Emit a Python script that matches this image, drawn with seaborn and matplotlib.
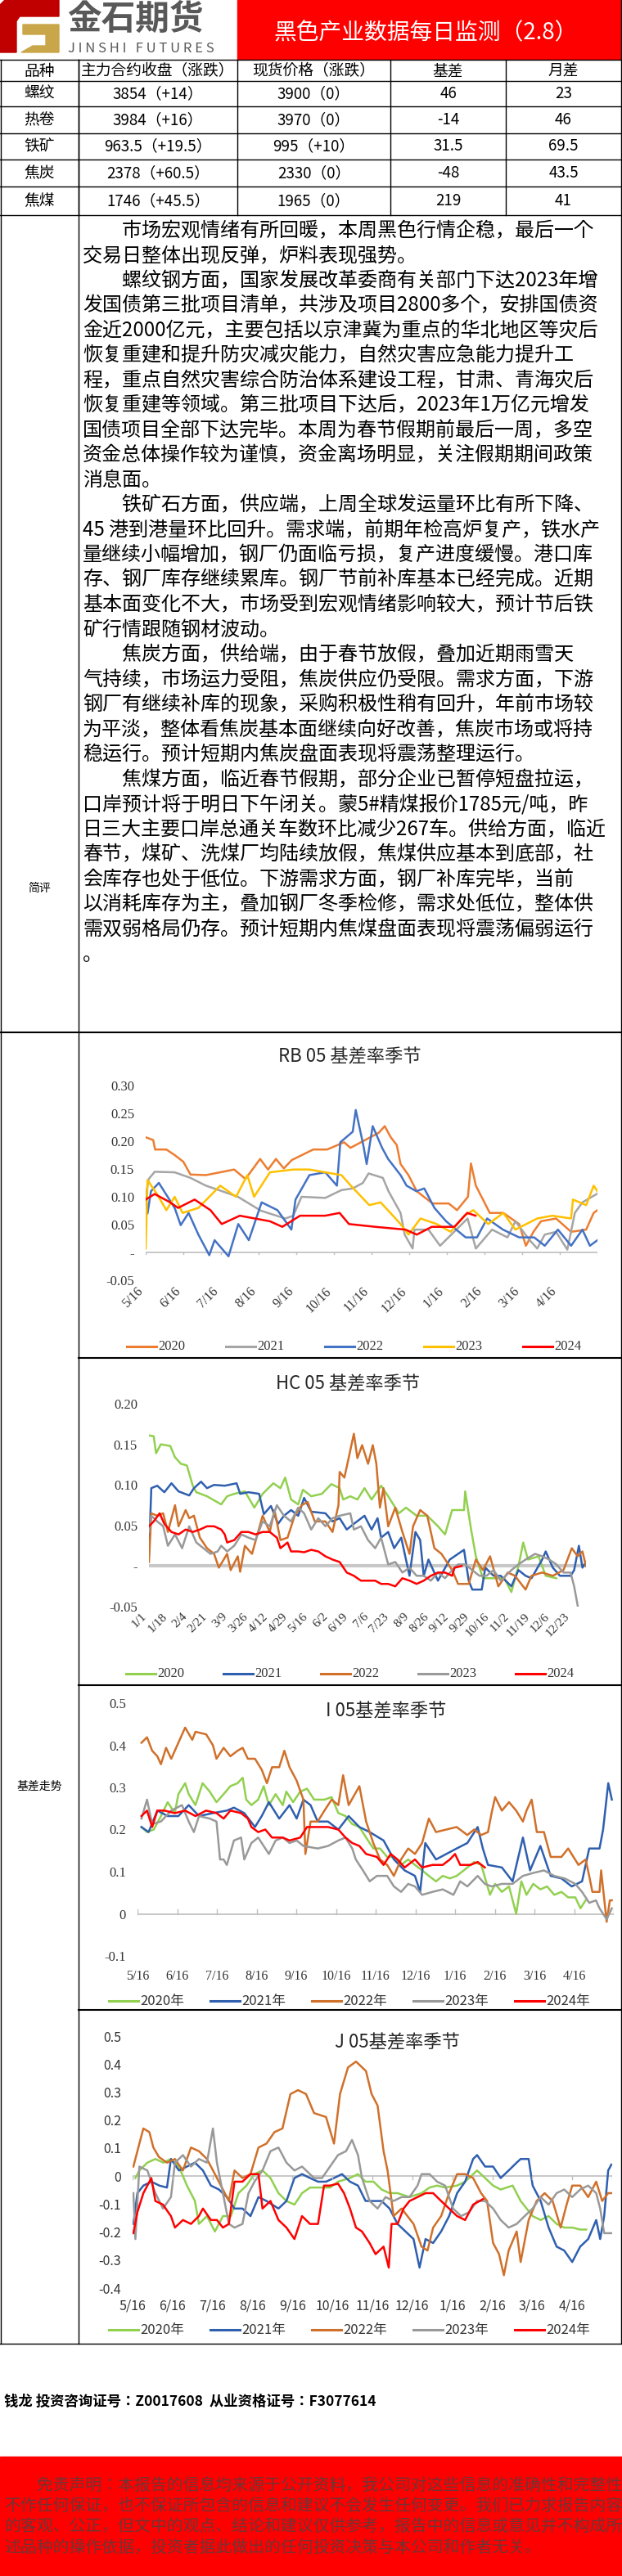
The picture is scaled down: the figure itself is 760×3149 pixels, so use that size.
import numpy as np
import pandas as pd
import matplotlib
matplotlib.use("Agg")
import matplotlib.pyplot as plt
from matplotlib.patches import Rectangle, Polygon
from matplotlib import font_manager
import seaborn as sns

cjk_names = {f.name for f in font_manager.fontManager.ttflist if "CJK" in f.name}
CJK = next((n for n in ["Noto Sans CJK SC", "Noto Sans CJK JP", "Noto Sans CJK TC", "Noto Sans CJK KR"] if n in cjk_names), "DejaVu Sans")
plt.rcParams["font.family"] = [CJK, "DejaVu Sans"]
W, H = 760, 3149

# ---------------- table ----------------
table_head = ["品种", "主力合约收盘（涨跌）", "现货价格（涨跌）", "基差", "月差"]
products = ["螺纹", "热卷", "铁矿", "焦炭", "焦煤"]
close_px = ["3854（+14）", "3984（+16）", "963.5（+19.5）", "2378（+60.5）", "1746（+45.5）"]
spot_px = ["3900（0）", "3970（0）", "995（+10）", "2330（0）", "1965（0）"]
basis = ["46", "-14", "31.5", "-48", "219"]
spread = ["23", "46", "69.5", "43.5", "41"]

comment_lines = [
    "　　市场宏观情绪有所回暖，本周黑色行情企稳，最后一个",
    "交易日整体出现反弹，炉料表现强势。",
    "　　螺纹钢方面，国家发展改革委商有关部门下达2023年增",
    "发国债第三批项目清单，共涉及项目2800多个，安排国债资",
    "金近2000亿元，主要包括以京津冀为重点的华北地区等灾后",
    "恢复重建和提升防灾减灾能力，自然灾害应急能力提升工",
    "程，重点自然灾害综合防治体系建设工程，甘肃、青海灾后",
    "恢复重建等领域。第三批项目下达后，2023年1万亿元增发",
    "国债项目全部下达完毕。本周为春节假期前最后一周，多空",
    "资金总体操作较为谨慎，资金离场明显，关注假期期间政策",
    "消息面。",
    "　　铁矿石方面，供应端，上周全球发运量环比有所下降、",
    "45 港到港量环比回升。需求端，前期年检高炉复产，铁水产",
    "量继续小幅增加，钢厂仍面临亏损，复产进度缓慢。港口库",
    "存、钢厂库存继续累库。钢厂节前补库基本已经完成。近期",
    "基本面变化不大，市场受到宏观情绪影响较大，预计节后铁",
    "矿行情跟随钢材波动。",
    "　　焦炭方面，供给端，由于春节放假，叠加近期雨雪天",
    "气持续，市场运力受阻，焦炭供应仍受限。需求方面，下游",
    "钢厂有继续补库的现象，采购积极性稍有回升，年前市场较",
    "为平淡，整体看焦炭基本面继续向好改善，焦炭市场或将持",
    "稳运行。预计短期内焦炭盘面表现将震荡整理运行。",
    "　　焦煤方面，临近春节假期，部分企业已暂停短盘拉运，",
    "口岸预计将于明日下午闭关。蒙5#精煤报价1785元/吨，昨",
    "日三大主要口岸总通关车数环比减少267车。供给方面，临近",
    "春节，煤矿、洗煤厂均陆续放假，焦煤供应基本到底部，社",
    "会库存也处于低位。下游需求方面，钢厂补库完毕，当前",
    "以消耗库存为主，叠加钢厂冬季检修，需求处低位，整体供",
    "需双弱格局仍存。预计短期内焦煤盘面表现将震荡偏弱运行",
    "。",
]

disclaimer_lines = [
    "　　免责声明：本报告的信息均来源于公开资料，我公司对这些信息的准确性和完整性",
    "不作任何保证，也不保证所包含的信息和建议不会发生任何变更。我们已力求报告内容",
    "的客观、公正，但文中的观点、结论和建议仅供参考，报告中的信息或意见并不构成所",
    "述品种的操作依据，投资者据此做出的任何投资决策与本公司和作者无关。",
]

# ---------------- RB 05 (x = months since 5/16) ----------------
rb_month_labels = ["5/16", "6/16", "7/16", "8/16", "9/16", "10/16", "11/16", "12/16", "1/16", "2/16", "3/16", "4/16"]
rb_x_2020 = [0, 0.2, 0.25, 0.55, 0.77, 1.0, 1.19, 1.6, 2.35, 2.65, 3.04, 3.25, 3.46, 3.67, 3.88, 4.45, 4.82, 5.27, 5.44, 6.19, 6.35, 6.51, 6.67, 6.77, 6.98, 7.2, 7.62, 8.05, 8.27, 8.56, 8.64, 8.77, 9.14, 9.5, 9.92, 10.1, 10.3, 10.5, 10.9, 11.3, 11.7, 11.9, 12.0]
rb_y_2020 = [0.207, 0.202, 0.185, 0.185, 0.175, 0.163, 0.14, 0.139, 0.149, 0.132, 0.168, 0.149, 0.168, 0.151, 0.166, 0.185, 0.185, 0.198, 0.188, 0.215, 0.227, 0.207, 0.193, 0.159, 0.139, 0.110, 0.088, 0.088, 0.076, 0.10, 0.16, 0.12, 0.071, 0.071, 0.051, 0.012, 0.037, 0.056, 0.061, 0.037, 0.041, 0.071, 0.076]
rb_x_2021 = [0, 0.08, 0.24, 0.77, 1.19, 1.6, 2.03, 2.45, 3.06, 3.71, 3.92, 4.14, 4.77, 5.2, 5.5, 5.77, 5.92, 6.3, 6.45, 6.77, 6.88, 7.09, 7.14, 7.51, 7.82, 8.55, 8.77, 9.2, 9.61, 9.82, 10.2, 10.4, 10.6, 10.9, 11.2, 11.4, 11.6, 11.98]
rb_y_2021 = [0.10, 0.132, 0.145, 0.144, 0.134, 0.12, 0.11, 0.10, 0.075, 0.061, 0.066, 0.10, 0.098, 0.112, 0.115, 0.125, 0.142, 0.134, 0.110, 0.071, 0.032, 0.007, 0.041, 0.041, 0.012, 0.061, 0.007, 0.041, 0.027, 0.056, 0.022, 0.007, 0.032, 0.037, 0.005, 0.071, 0.090, 0.105]
rb_x_2022 = [0, 0.05, 0.14, 0.35, 0.77, 0.93, 1.14, 1.40, 1.69, 1.83, 2.2, 2.46, 2.74, 3.08, 3.5, 3.87, 3.98, 4.35, 4.77, 5.08, 5.17, 5.5, 5.58, 5.78, 5.87, 6.03, 6.28, 6.44, 6.77, 6.93, 7.19, 7.4, 7.67, 7.98, 8.5, 8.8, 9.07, 9.49, 9.92, 10.32, 10.6, 10.95, 11.3, 11.6, 11.8, 12.0]
rb_y_2022 = [0.10, 0.07, 0.11, 0.125, 0.080, 0.049, 0.071, 0.032, -0.005, 0.022, -0.007, 0.051, 0.022, 0.090, 0.076, 0.041, 0.095, 0.139, 0.144, 0.12, 0.198, 0.217, 0.256, 0.193, 0.159, 0.227, 0.188, 0.168, 0.139, 0.120, 0.110, 0.115, 0.080, 0.056, 0.027, 0.027, 0.061, 0.041, 0.027, 0.027, 0.012, 0.041, 0.012, 0.041, 0.012, 0.022]
rb_x_2023 = [0, 0.05, 0.3, 0.55, 0.77, 0.98, 1.4, 1.98, 2.4, 2.7, 2.88, 3.3, 3.92, 4.35, 4.77, 5.2, 5.45, 5.94, 6.24, 6.5, 6.77, 6.98, 7.3, 7.73, 8.1, 8.47, 8.7, 9.1, 9.5, 9.82, 10.4, 10.8, 11.3, 11.35, 11.7, 11.9, 12.0]
rb_y_2023 = [0.007, 0.13, 0.105, 0.076, 0.10, 0.071, 0.080, 0.12, 0.10, 0.139, 0.10, 0.144, 0.149, 0.149, 0.144, 0.139, 0.120, 0.085, 0.090, 0.071, 0.051, 0.032, 0.061, 0.051, 0.037, 0.066, 0.076, 0.051, 0.071, 0.041, 0.061, 0.066, 0.061, 0.095, 0.085, 0.12, 0.110]
rb_x_2024 = [0, 0.24, 0.65, 0.86, 1.3, 1.72, 2.02, 2.5, 3.3, 3.63, 4.1, 4.77, 5.15, 5.4, 6.1, 6.9, 7.2, 7.6, 8.2, 8.54, 8.76]
rb_y_2024 = [0.095, 0.105, 0.090, 0.080, 0.095, 0.076, 0.051, 0.066, 0.056, 0.046, 0.066, 0.066, 0.071, 0.051, 0.046, 0.041, 0.032, 0.046, 0.046, 0.071, 0.066]

# ---------------- HC 05 (x = day of year) ----------------
hc_day_labels = ["1/1", "1/18", "2/4", "2/21", "3/9", "3/26", "4/12", "4/29", "5/16", "6/2", "6/19", "7/6", "7/23", "8/9", "8/26", "9/12", "9/29", "10/16", "11/2", "11/19", "12/6", "12/23"]
hc_x_2020 = [0, 4, 6, 10, 18, 22, 27, 32, 37, 40, 49, 61, 66, 72, 81, 89, 96, 105, 111, 115, 120, 126, 130, 137, 146, 154, 161, 164, 170, 176, 182, 188, 196, 202, 211, 217, 226, 235, 244, 250, 256, 266, 267, 272, 276, 282, 291, 300, 306, 312, 316, 320, 329, 335, 344]
hc_y_2020 = [0.161, 0.160, 0.139, 0.150, 0.148, 0.134, 0.126, 0.124, 0.099, 0.091, 0.086, 0.076, 0.086, 0.089, 0.092, 0.072, 0.089, 0.102, 0.096, 0.109, 0.082, 0.076, 0.094, 0.086, 0.089, 0.101, 0.096, 0.082, 0.086, 0.082, 0.096, 0.082, 0.099, 0.086, 0.065, 0.072, 0.062, 0.062, 0.049, 0.039, 0.069, 0.069, 0.092, 0.045, 0.012, -0.015, -0.015, -0.015, -0.032, 0.0, 0.029, 0.008, 0.012, -0.012, -0.015]
hc_x_2021 = [0, 2, 7, 13, 19, 25, 34, 38, 44, 49, 55, 64, 74, 77, 84, 93, 97, 103, 109, 114, 120, 126, 131, 137, 149, 155, 161, 167, 173, 182, 188, 193, 196, 202, 207, 213, 217, 220, 225, 229, 232, 236, 244, 254, 261, 266, 270, 273, 281, 284, 291, 297, 306, 312, 318, 323, 332, 335, 341, 347, 356, 359, 363, 366, 369]
hc_y_2021 = [0.015, 0.096, 0.099, 0.091, 0.102, 0.092, 0.087, 0.096, 0.104, 0.096, 0.10, 0.099, 0.102, 0.089, 0.091, 0.089, 0.064, 0.074, 0.052, 0.062, 0.069, 0.062, 0.084, 0.067, 0.065, 0.055, 0.059, 0.045, 0.052, 0.062, 0.045, 0.059, 0.035, 0.042, 0.022, 0.035, 0.008, -0.012, 0.042, 0.032, -0.012, 0.008, -0.018, 0.008, 0.015, 0.020, -0.018, -0.029, -0.029, -0.002, -0.012, -0.012, -0.025, -0.005, -0.012, -0.015, 0.008, 0.018, -0.002, -0.012, -0.012, -0.005, 0.025, -0.002, 0.005]
hc_x_2022 = [0, 2, 7, 12, 16, 22, 25, 31, 34, 38, 43, 49, 55, 59, 66, 69, 75, 77, 81, 87, 96, 102, 106, 111, 117, 123, 129, 134, 140, 149, 155, 160, 161, 165, 168, 173, 176, 180, 185, 189, 192, 195, 198, 202, 208, 214, 220, 223, 229, 235, 241, 247, 256, 261, 270, 276, 282, 288, 295, 303, 309, 318, 323, 332, 341, 350, 357, 362, 366, 369]
hc_y_2022 = [0.005, 0.065, 0.062, 0.065, 0.042, 0.075, 0.049, 0.069, 0.059, 0.062, 0.035, 0.022, 0.015, -0.002, 0.015, -0.005, 0.012, -0.007, 0.025, 0.015, 0.062, 0.042, 0.069, 0.032, 0.035, 0.062, 0.075, 0.079, 0.055, 0.055, 0.042, 0.075, 0.116, 0.109, 0.129, 0.163, 0.133, 0.149, 0.126, 0.149, 0.126, 0.072, 0.096, 0.049, 0.072, 0.042, 0.015, 0.049, 0.069, 0.062, 0.022, 0.015, -0.005, -0.022, -0.022, 0.008, -0.005, 0.012, -0.025, -0.008, -0.012, -0.029, -0.012, -0.008, -0.012, -0.005, 0.022, 0.012, 0.018, 0.0]
hc_x_2023 = [0, 2, 7, 12, 16, 22, 28, 34, 40, 46, 52, 58, 61, 66, 72, 78, 84, 90, 96, 102, 108, 114, 120, 126, 131, 137, 143, 149, 155, 161, 170, 173, 179, 185, 191, 196, 202, 208, 214, 220, 226, 232, 238, 244, 250, 256, 261, 267, 273, 279, 285, 291, 297, 306, 312, 318, 326, 332, 338, 344, 350, 356, 359, 362]
hc_y_2023 = [0.042, 0.062, 0.055, 0.049, 0.025, 0.039, 0.022, 0.049, 0.029, 0.022, 0.015, 0.018, 0.025, 0.018, 0.025, 0.039, 0.035, 0.032, 0.055, 0.049, 0.075, 0.062, 0.055, 0.072, 0.065, 0.045, 0.059, 0.049, 0.059, 0.062, 0.065, 0.045, 0.049, 0.032, 0.022, 0.035, 0.002, 0.005, -0.008, -0.002, -0.012, -0.012, -0.018, -0.008, -0.015, -0.005, 0.002, 0.002, -0.005, -0.012, -0.012, -0.005, -0.018, -0.005, 0.002, 0.008, 0.015, 0.012, 0.008, 0.002, -0.008, -0.008, -0.025, -0.049]
hc_x_2024 = [0, 4, 9, 13, 19, 25, 31, 37, 43, 49, 55, 61, 64, 66, 72, 78, 84, 90, 96, 102, 108, 111, 117, 120, 126, 131, 137, 143, 149, 155, 161, 167, 173, 179, 185, 191, 196, 202, 208, 214, 220, 226, 232, 238, 244, 250, 256, 258, 264]
hc_y_2024 = [0.049, 0.055, 0.065, 0.052, 0.042, 0.039, 0.045, 0.042, 0.045, 0.049, 0.049, 0.045, 0.039, 0.029, 0.032, 0.042, 0.042, 0.039, 0.042, 0.042, 0.035, 0.022, 0.029, 0.018, 0.018, 0.017, 0.020, 0.018, 0.012, 0.008, 0.005, -0.008, -0.012, -0.018, -0.018, -0.018, -0.022, -0.022, -0.025, -0.015, -0.018, -0.022, -0.018, -0.012, -0.008, -0.008, -0.012, -0.002, 0.0]

# ---------------- I 05 (x = months since 5/16) ----------------
i_x_2020 = [0.1, 0.24, 0.41, 0.59, 0.76, 0.94, 1.03, 1.2, 1.29, 1.46, 1.64, 1.82, 1.99, 2.17, 2.34, 2.52, 2.65, 2.74, 2.87, 3.04, 3.18, 3.31, 3.48, 3.66, 3.75, 3.92, 4.1, 4.27, 4.45, 4.71, 4.89, 5.06, 5.24, 5.41, 5.59, 5.76, 5.94, 6.11, 6.29, 6.46, 6.64, 6.82, 6.99, 7.17, 7.34, 7.52, 7.69, 7.87, 8.04, 8.22, 8.48, 8.66, 8.88, 9.01, 9.18, 9.36, 9.54, 9.67, 9.8, 9.97, 10.15, 10.32, 10.5, 10.68, 10.85, 11.03, 11.16, 11.29]
i_y_2020 = [0.206, 0.194, 0.2, 0.232, 0.265, 0.239, 0.284, 0.31, 0.284, 0.258, 0.31, 0.29, 0.265, 0.284, 0.303, 0.31, 0.323, 0.271, 0.258, 0.271, 0.303, 0.258, 0.284, 0.258, 0.29, 0.265, 0.29, 0.297, 0.271, 0.271, 0.277, 0.239, 0.232, 0.213, 0.206, 0.181, 0.155, 0.155, 0.135, 0.135, 0.116, 0.129, 0.116, 0.103, 0.09, 0.077, 0.09, 0.084, 0.09, 0.103, 0.123, 0.116, 0.045, 0.071, 0.052, 0.065, 0.0, 0.077, 0.045, 0.071, 0.058, 0.065, 0.045, 0.052, 0.039, 0.039, 0.013, 0.032]
i_x_2021 = [0.1, 0.28, 0.5, 0.76, 1.03, 1.29, 1.55, 1.9, 2.25, 2.43, 2.69, 2.96, 3.13, 3.31, 3.57, 3.83, 4.01, 4.18, 4.36, 4.54, 4.8, 5.06, 5.32, 5.59, 5.85, 6.2, 6.46, 6.73, 6.99, 7.12, 7.25, 7.52, 7.78, 8.04, 8.31, 8.57, 8.7, 8.83, 9.18, 9.45, 9.71, 9.89, 10.15, 10.41, 10.68, 10.94, 11.2, 11.38, 11.64, 11.73, 11.86, 11.95]
i_y_2021 = [0.206, 0.194, 0.245, 0.232, 0.232, 0.258, 0.232, 0.239, 0.245, 0.252, 0.239, 0.206, 0.232, 0.265, 0.226, 0.258, 0.226, 0.271, 0.258, 0.219, 0.219, 0.2, 0.232, 0.206, 0.194, 0.174, 0.129, 0.103, 0.09, 0.052, 0.168, 0.129, 0.142, 0.155, 0.168, 0.206, 0.155, 0.116, 0.11, 0.077, 0.181, 0.103, 0.161, 0.090, 0.084, 0.065, 0.077, 0.155, 0.155, 0.2, 0.31, 0.271]
i_x_2022 = [0.1, 0.24, 0.37, 0.5, 0.59, 0.72, 0.85, 1.03, 1.2, 1.38, 1.46, 1.73, 1.9, 1.99, 2.17, 2.34, 2.52, 2.65, 2.78, 2.96, 3.13, 3.26, 3.39, 3.57, 3.7, 3.83, 4.01, 4.18, 4.23, 4.36, 4.54, 4.71, 4.89, 5.06, 5.18, 5.32, 5.59, 5.76, 5.94, 6.11, 6.29, 6.46, 6.64, 6.82, 6.99, 7.17, 7.34, 7.52, 7.78, 8.04, 8.31, 8.48, 8.66, 8.83, 8.92, 9.01, 9.18, 9.36, 9.54, 9.71, 9.8, 9.93, 10.06, 10.24, 10.41, 10.68, 10.85, 11.11, 11.29, 11.38, 11.46, 11.64, 11.68, 11.82, 11.9, 11.95]
i_y_2022 = [0.406, 0.419, 0.387, 0.374, 0.355, 0.394, 0.368, 0.406, 0.442, 0.413, 0.432, 0.426, 0.4, 0.368, 0.394, 0.374, 0.387, 0.394, 0.368, 0.368, 0.342, 0.31, 0.348, 0.348, 0.387, 0.348, 0.316, 0.271, 0.142, 0.219, 0.219, 0.245, 0.271, 0.258, 0.329, 0.258, 0.303, 0.219, 0.168, 0.129, 0.116, 0.090, 0.129, 0.155, 0.142, 0.168, 0.226, 0.194, 0.2, 0.206, 0.187, 0.2, 0.187, 0.194, 0.239, 0.277, 0.245, 0.265, 0.245, 0.219, 0.245, 0.271, 0.194, 0.194, 0.135, 0.135, 0.155, 0.116, 0.129, 0.090, 0.052, 0.052, 0.103, -0.019, 0.032, 0.032]
i_x_2023 = [0.1, 0.24, 0.37, 0.59, 0.85, 1.12, 1.29, 1.42, 1.55, 1.82, 1.99, 2.08, 2.17, 2.25, 2.43, 2.61, 2.69, 2.87, 3.04, 3.31, 3.48, 3.66, 3.83, 4.01, 4.18, 4.54, 4.8, 5.06, 5.24, 5.41, 5.5, 5.68, 5.85, 6.03, 6.29, 6.46, 6.64, 6.82, 6.99, 7.17, 7.43, 7.69, 7.96, 8.13, 8.31, 8.57, 8.75, 8.92, 9.18, 9.45, 9.71, 9.97, 10.24, 10.5, 10.76, 11.03, 11.2, 11.38, 11.55, 11.64, 11.73, 11.82, 11.95]
i_y_2023 = [0.226, 0.271, 0.213, 0.219, 0.245, 0.258, 0.219, 0.194, 0.232, 0.226, 0.219, 0.129, 0.129, 0.116, 0.174, 0.181, 0.129, 0.168, 0.181, 0.142, 0.174, 0.181, 0.168, 0.174, 0.161, 0.155, 0.161, 0.174, 0.181, 0.155, 0.129, 0.103, 0.077, 0.090, 0.090, 0.065, 0.052, 0.071, 0.065, 0.045, 0.052, 0.058, 0.045, 0.077, 0.065, 0.090, 0.071, 0.065, 0.071, 0.071, 0.090, 0.097, 0.103, 0.090, 0.084, 0.071, 0.052, 0.026, 0.032, 0.013, 0.0, -0.013, 0.013]
i_x_2024 = [0.1, 0.24, 0.37, 0.5, 0.68, 0.94, 1.2, 1.46, 1.73, 1.99, 2.17, 2.34, 2.61, 2.78, 2.87, 3.04, 3.22, 3.39, 3.66, 3.83, 4.1, 4.27, 4.54, 4.8, 5.06, 5.24, 5.41, 5.59, 5.76, 6.03, 6.2, 6.38, 6.55, 6.73, 6.99, 7.17, 7.43, 7.69, 7.87, 8.0, 8.13, 8.39, 8.57, 8.75]
i_y_2024 = [0.232, 0.245, 0.206, 0.245, 0.245, 0.239, 0.245, 0.232, 0.245, 0.239, 0.226, 0.245, 0.239, 0.226, 0.206, 0.194, 0.2, 0.181, 0.181, 0.174, 0.181, 0.206, 0.206, 0.206, 0.2, 0.181, 0.168, 0.161, 0.142, 0.135, 0.116, 0.142, 0.129, 0.110, 0.129, 0.110, 0.116, 0.116, 0.129, 0.142, 0.116, 0.116, 0.123, 0.110]

# ---------------- J 05 (x = months since 5/16) ----------------
j_x_2020 = [0.07, 0.17, 0.37, 0.57, 0.77, 0.96, 1.16, 1.36, 1.56, 1.66, 1.86, 2.06, 2.26, 2.46, 2.65, 2.85, 3.05, 3.25, 3.45, 3.65, 3.85, 4.05, 4.24, 4.44, 4.64, 4.94, 5.14, 5.44, 5.64, 5.83, 6.03, 6.23, 6.43, 6.63, 6.93, 7.23, 7.43, 7.62, 7.82, 8.12, 8.32, 8.62, 8.82, 9.02, 9.21, 9.51, 9.71, 10.01, 10.21, 10.41, 10.61, 10.8, 11.0, 11.2, 11.35]
j_y_2020 = [-0.007, 0.02, 0.048, 0.061, 0.048, 0.061, 0.034, -0.034, -0.089, -0.171, -0.143, -0.198, -0.143, -0.143, -0.061, -0.034, 0.007, 0.02, -0.007, -0.061, -0.089, -0.102, -0.061, -0.041, -0.041, -0.041, -0.02, -0.007, 0.007, -0.02, -0.02, -0.048, -0.061, -0.061, -0.075, -0.061, -0.041, -0.034, -0.041, -0.034, -0.02, 0.02, -0.007, -0.034, -0.048, -0.034, -0.089, -0.143, -0.157, -0.143, -0.171, -0.184, -0.184, -0.191, -0.191]
j_x_2021 = [0.02, 0.12, 0.27, 0.47, 0.67, 0.86, 0.96, 1.16, 1.36, 1.56, 1.76, 1.96, 2.16, 2.36, 2.55, 2.75, 2.95, 3.15, 3.35, 3.65, 3.85, 4.05, 4.24, 4.44, 4.64, 4.84, 5.04, 5.24, 5.44, 5.64, 5.83, 6.03, 6.23, 6.43, 6.63, 6.83, 7.03, 7.18, 7.33, 7.52, 7.72, 7.92, 8.12, 8.32, 8.52, 8.62, 8.82, 9.02, 9.21, 9.41, 9.61, 9.71, 9.91, 10.01, 10.21, 10.41, 10.61, 10.8, 11.0, 11.2, 11.4, 11.6, 11.7, 11.8, 11.9, 11.98]
j_y_2021 = [-0.171, -0.061, -0.034, -0.02, -0.034, -0.041, 0.061, 0.02, 0.034, 0.048, 0.02, -0.034, -0.048, -0.075, -0.116, -0.116, -0.143, -0.075, -0.089, -0.116, -0.089, -0.007, 0.007, -0.007, -0.02, -0.02, -0.007, 0.007, -0.02, -0.034, -0.089, -0.089, -0.089, -0.116, -0.171, -0.198, -0.225, -0.327, -0.225, -0.239, -0.198, -0.143, -0.061, -0.02, 0.061, 0.075, 0.034, 0.034, -0.007, 0.02, 0.048, 0.061, 0.061, -0.034, -0.089, -0.184, -0.252, -0.266, -0.307, -0.252, -0.225, -0.157, -0.225, -0.143, 0.02, 0.041]
j_x_2022 = [0.02, 0.17, 0.27, 0.42, 0.52, 0.66, 0.86, 1.06, 1.26, 1.46, 1.66, 1.86, 2.06, 2.26, 2.41, 2.55, 2.75, 2.95, 3.15, 3.35, 3.55, 3.75, 3.95, 4.14, 4.34, 4.54, 4.84, 5.04, 5.19, 5.39, 5.59, 5.84, 5.98, 6.13, 6.28, 6.38, 6.53, 6.73, 7.03, 7.23, 7.38, 7.52, 7.72, 7.92, 8.12, 8.32, 8.52, 8.72, 8.87, 9.02, 9.17, 9.29, 9.41, 9.61, 9.71, 9.91, 10.11, 10.31, 10.51, 10.71, 10.86, 11.0, 11.2, 11.4, 11.6, 11.75, 11.9, 12.0]
j_y_2022 = [0.034, 0.116, 0.17, 0.157, 0.102, 0.068, 0.048, 0.061, 0.02, 0.102, 0.089, 0.061, 0.007, -0.048, -0.089, 0.02, -0.007, 0.007, 0.102, 0.116, 0.157, 0.17, 0.293, 0.307, 0.293, 0.225, 0.211, 0.116, 0.293, 0.388, 0.409, 0.375, 0.293, 0.252, 0.089, 0.02, -0.143, -0.116, -0.171, -0.252, -0.266, -0.184, -0.143, -0.061, 0.007, 0.007, -0.007, -0.061, -0.089, -0.239, -0.279, -0.354, -0.266, -0.198, -0.307, -0.157, -0.089, -0.061, -0.089, -0.184, -0.102, -0.034, -0.034, -0.075, -0.02, -0.089, -0.061, -0.061]
j_x_2023 = [0.02, 0.07, 0.17, 0.37, 0.57, 0.76, 0.96, 1.06, 1.26, 1.46, 1.66, 1.86, 2.01, 2.11, 2.26, 2.41, 2.55, 2.75, 2.9, 3.05, 3.25, 3.45, 3.65, 3.85, 4.05, 4.24, 4.54, 4.74, 4.94, 5.14, 5.34, 5.49, 5.64, 5.74, 5.93, 6.13, 6.33, 6.53, 6.73, 6.93, 7.13, 7.23, 7.43, 7.62, 7.82, 8.02, 8.22, 8.42, 8.62, 8.82, 9.02, 9.21, 9.41, 9.61, 9.81, 10.01, 10.21, 10.41, 10.61, 10.8, 11.0, 11.2, 11.4, 11.6, 11.7, 11.8, 12.0]
j_y_2023 = [-0.061, -0.225, 0.034, 0.02, -0.061, -0.116, -0.075, 0.048, 0.075, 0.034, 0.061, 0.048, 0.17, 0.048, -0.061, -0.171, -0.184, -0.171, -0.061, -0.02, 0.02, 0.089, 0.102, 0.048, 0.02, 0.034, -0.007, -0.007, 0.034, 0.075, 0.089, 0.129, 0.075, -0.007, -0.089, -0.116, -0.075, -0.089, -0.075, -0.075, -0.034, 0.007, 0.007, -0.02, -0.034, -0.116, -0.143, -0.129, -0.089, -0.089, -0.116, -0.157, -0.184, -0.171, -0.143, -0.116, -0.075, -0.102, -0.061, -0.048, -0.075, -0.048, -0.034, -0.061, -0.116, -0.204, -0.204]
j_x_2024 = [0.02, 0.12, 0.27, 0.47, 0.57, 0.76, 0.96, 1.06, 1.26, 1.46, 1.66, 1.76, 1.96, 2.11, 2.26, 2.41, 2.55, 2.75, 2.95, 3.15, 3.25, 3.45, 3.65, 3.85, 4.05, 4.24, 4.44, 4.64, 4.79, 4.94, 5.14, 5.29, 5.44, 5.59, 5.74, 5.93, 6.08, 6.28, 6.41, 6.48, 6.63, 6.78, 6.93, 7.13, 7.33, 7.52, 7.72, 7.92, 8.12, 8.32, 8.52, 8.77]
j_y_2024 = [-0.204, -0.129, -0.061, -0.007, -0.089, -0.102, -0.143, -0.184, -0.157, -0.171, -0.143, -0.116, -0.157, -0.157, -0.184, -0.171, -0.02, -0.02, 0.007, 0.007, -0.116, -0.089, -0.157, -0.184, -0.225, -0.143, -0.171, -0.171, -0.034, -0.034, -0.027, -0.061, -0.116, -0.184, -0.198, -0.239, -0.279, -0.252, -0.327, -0.171, -0.171, -0.116, -0.089, -0.075, -0.061, -0.061, -0.089, -0.116, -0.143, -0.157, -0.102, -0.082]

years = ["2020", "2021", "2022", "2023", "2024"]
rb_colors = ["#ED7D31", "#A5A5A5", "#4472C4", "#FFC000", "#FF0000"]
other_colors = ["#92D050", "#2F5FAF", "#D0702A", "#999999", "#FF0000"]


def long_frame(xs, ys):
    parts = [pd.DataFrame({"x": x, "y": y, "year": yr}) for x, y, yr in zip(xs, ys, years)]
    return pd.concat(parts, ignore_index=True)


fig = plt.figure(figsize=(W / 100, H / 100), dpi=100)
bg = fig.add_axes([0, 0, 1, 1])
bg.set_xlim(0, W)
bg.set_ylim(H, 0)
bg.axis("off")


def hline(y, x0=0, x1=W, lw=1.0, c="black"):
    bg.plot([x0, x1], [y, y], color=c, lw=lw)


def vline(x, y0, y1, lw=1.0, c="black"):
    bg.plot([x, x], [y0, y1], color=c, lw=lw)


# header
bg.add_patch(Rectangle((290, 0), 470, 72, color="#FF0000"))
bg.text(520, 40, "黑色产业数据每日监测（2.8）", color="white", fontsize=20, ha="center", va="center")
bg.add_patch(Polygon([(0, 6), (6, 0), (72, 0), (72, 20), (24, 20), (20, 26), (20, 64), (0, 64)], color="#C00000"))
bg.add_patch(Polygon([(28, 30), (72, 30), (72, 64), (26, 64), (40, 56), (56, 56), (56, 42), (28, 42)], color="#C9A64A"))
bg.text(82, 24, "金石期货", fontsize=30, fontweight="bold", color="#595959", va="center")
bg.text(83, 60, "J I N S H I   F U T U R E S", fontsize=12, color="#595959", va="center")

# table
col_edges = [0, 96, 290, 477, 618, 759]
row_edges = [73, 99, 130, 163, 195, 228, 263]
for y in row_edges:
    hline(y)
for x in col_edges[1:-1]:
    vline(x, 73, 263)
cols = [products, close_px, spot_px, basis, spread]
for j, head in enumerate(table_head):
    cx = (col_edges[j] + col_edges[j + 1]) / 2
    bg.text(cx, 87, head, fontsize=13.5, ha="center", va="center")
    for i, val in enumerate(cols[j]):
        cy = (row_edges[i + 1] + row_edges[i + 2]) / 2
        bg.text(cx, cy, val, fontsize=13.5, ha="center", va="center")

# comment section
for k, line in enumerate(comment_lines):
    bg.text(101, 282 + k * 30.5, line, fontsize=17.3, va="center")
bg.text(48, 1086, "简评", fontsize=10, ha="center", va="center")
hline(1262, lw=1.5)
bg.text(48, 2184, "基差走势", fontsize=10, ha="center", va="center")
for y in [1660, 2060, 2457]:
    hline(y, 96, W, lw=1.5)
hline(2865)
vline(96, 73, 2865)
vline(759, 0, 2865)
vline(0.5, 73, 2865)

# footer
bg.text(5, 2936, "钱龙 投资咨询证号：Z0017608  从业资格证号：F3077614", fontsize=12.5, fontweight="bold", va="center")
bg.add_patch(Rectangle((0, 3003), W, H - 3003, color="#FF0000"))
for k, line in enumerate(disclaimer_lines):
    bg.text(5, 3039 + k * 25, line, fontsize=14.3, color="#6e3535", va="center")


def chart_axes(l, t, r, b):
    return fig.add_axes([l / W, 1 - b / H, (r - l) / W, (b - t) / H])


def draw_chart(ax, frame, colors, ylim, yticks, ylabels, xlim, xticks, xlabels, rot, serif):
    sns.lineplot(data=frame, x="x", y="y", hue="year", palette=colors, estimator=None,
                 sort=True, linewidth=1.8, legend=False, ax=ax)
    ax.set_xlim(*xlim)
    ax.set_ylim(*ylim)
    ax.axhline(0, color="#BFBFBF", lw=1.2, zorder=0)
    for s in ax.spines.values():
        s.set_visible(False)
    fam = "Liberation Serif" if serif else CJK
    ax.set_yticks(yticks)
    ax.set_yticklabels(ylabels, fontsize=12, fontfamily=fam, color="#333333")
    ax.set_xticks(xticks)
    ax.set_xticklabels(xlabels, fontsize=11.5, fontfamily=fam, color="#333333", rotation=rot,
                       ha="right" if rot else "center")
    ax.tick_params(length=0, pad=10)
    ax.set_xlabel("")
    ax.set_ylabel("")
    ax.patch.set_alpha(0)


def add_legend(colors, labels, y, x0, step, serif):
    fam = "Liberation Serif" if serif else CJK
    for k, (c, lab) in enumerate(zip(colors, labels)):
        x = x0 + k * step
        bg.plot([x, x + 36], [y, y], color=c, lw=2.2)
        bg.text(x + 38, y, lab, fontsize=12, fontfamily=fam, va="center", color="#333333")


# RB
ax = chart_axes(178, 1327, 730, 1565)
draw_chart(ax, long_frame([rb_x_2020, rb_x_2021, rb_x_2022, rb_x_2023, rb_x_2024],
                          [rb_y_2020, rb_y_2021, rb_y_2022, rb_y_2023, rb_y_2024]),
           rb_colors, (-0.05, 0.30), [-0.05, 0, 0.05, 0.10, 0.15, 0.20, 0.25, 0.30],
           ["-0.05", "-", "0.05", "0.10", "0.15", "0.20", "0.25", "0.30"],
           (0, 12), list(range(12)), rb_month_labels, 45, True)
for t in range(13):
    ax.plot([t, t], [0, -0.003], color="#BFBFBF", lw=1)
ax.tick_params(axis="x", pad=4)
bg.text(427, 1292, "RB 05 基差率季节", fontsize=16, ha="center", va="center", color="#262626")
add_legend(rb_colors, years, 1646, 155, 121, True)

# HC
ax = chart_axes(182, 1716, 716, 1964)
draw_chart(ax, long_frame([hc_x_2020, hc_x_2021, hc_x_2022, hc_x_2023, hc_x_2024],
                          [hc_y_2020, hc_y_2021, hc_y_2022, hc_y_2023, hc_y_2024]),
           other_colors, (-0.05, 0.20), [-0.05, 0, 0.05, 0.10, 0.15, 0.20],
           ["-0.05", "-", "0.05", "0.10", "0.15", "0.20"],
           (0, 369), [17 * k for k in range(22)], hc_day_labels, 45, True)
ax.tick_params(axis="x", pad=4, labelsize=11)
ax.axhline(0, color="#C8C8C8", lw=3, zorder=0)
bg.text(425, 1692, "HC 05 基差率季节", fontsize=16, ha="center", va="center", color="#262626")
add_legend(other_colors, years, 2046, 154, 119, True)

# I
ax = chart_axes(168, 2082, 750, 2391)
draw_chart(ax, long_frame([i_x_2020, i_x_2021, i_x_2022, i_x_2023, i_x_2024],
                          [i_y_2020, i_y_2021, i_y_2022, i_y_2023, i_y_2024]),
           other_colors, (-0.1, 0.5), [-0.1, 0, 0.1, 0.2, 0.3, 0.4, 0.5],
           ["-0.1", "0", "0.1", "0.2", "0.3", "0.4", "0.5"],
           (0, 12), list(range(12)), rb_month_labels, 0, True)
for t in range(13):
    ax.plot([t, t], [0, 0.01], color="#BFBFBF", lw=1)
ax.tick_params(axis="x", pad=12)
bg.text(472, 2092, "I 05基差率季节", fontsize=16, ha="center", va="center", color="#262626")
add_legend(other_colors, [y + "年" for y in years], 2446, 133, 124, False)

# J
ax = chart_axes(162, 2489, 748, 2797)
draw_chart(ax, long_frame([j_x_2020, j_x_2021, j_x_2022, j_x_2023, j_x_2024],
                          [j_y_2020, j_y_2021, j_y_2022, j_y_2023, j_y_2024]),
           other_colors, (-0.4, 0.5), [-0.4, -0.3, -0.2, -0.1, 0, 0.1, 0.2, 0.3, 0.4, 0.5],
           ["-0.4", "-0.3", "-0.2", "-0.1", "0", "0.1", "0.2", "0.3", "0.4", "0.5"],
           (0, 12), list(range(12)), rb_month_labels, 0, False)
for t in range(13):
    ax.plot([t, t], [0, -0.012], color="#BFBFBF", lw=1)
ax.tick_params(axis="x", pad=10)
ax.tick_params(axis="y", labelsize=11.5)
bg.text(485, 2497, "J 05基差率季节", fontsize=16, ha="center", va="center", color="#262626")
add_legend(other_colors, [y + "年" for y in years], 2848, 133, 124, False)

fig.savefig("out.png", dpi=100)
